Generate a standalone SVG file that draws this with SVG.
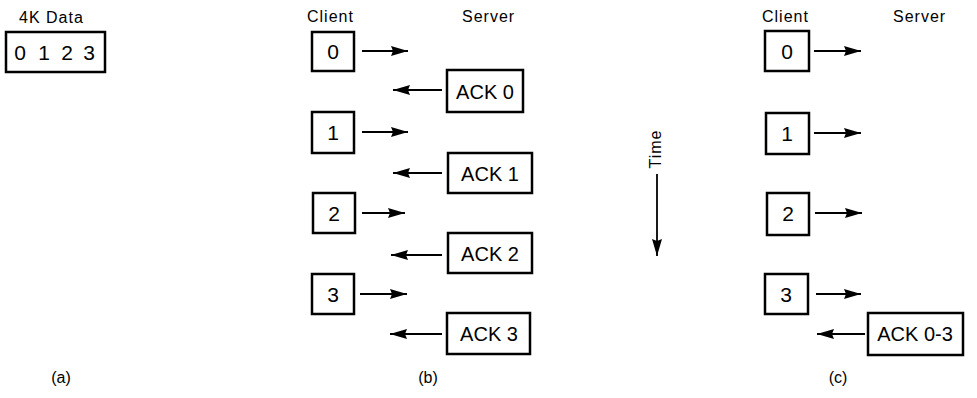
<svg xmlns="http://www.w3.org/2000/svg" width="977" height="398" viewBox="0 0 977 398">
<style>
.box{fill:#fff;stroke:#000;stroke-width:2.5}
.t{font-family:"Liberation Sans",Arial,sans-serif;fill:#000}
.lbl{font-size:16px;letter-spacing:1px}
.num{font-size:21px;text-anchor:middle}
.ack{font-size:20px;text-anchor:middle}
.cap{font-size:16px;text-anchor:middle}
.arr{stroke:#000;stroke-width:1.8;fill:none;marker-end:url(#ah)}
</style>
<defs>
<marker id="ah" markerUnits="userSpaceOnUse" markerWidth="20" markerHeight="14" refX="17" refY="7" orient="auto">
<path d="M0,2 L17,7 L0,12 L2,7 Z" fill="#000"/>
</marker>
</defs>
<g id="a-data">
<text class="t lbl" x="19" y="23">4K Data</text>
<rect class="box" x="6" y="32" width="99" height="40"/>
<text class="t num" x="20" y="60">0</text>
<text class="t num" x="44" y="60">1</text>
<text class="t num" x="67" y="60">2</text>
<text class="t num" x="89" y="60">3</text>
</g>
<g id="b-labels">
<text class="t lbl" x="307" y="22">Client</text>
<text class="t lbl" x="462" y="22">Server</text>
</g>
<g id="b-c0"><rect class="box" x="312" y="32" width="42" height="39"/><text class="t num" x="333" y="59">0</text></g>
<g id="b-ack0"><rect class="box" x="447" y="70" width="76" height="42"/><text class="t ack" x="485" y="99">ACK 0</text></g>
<g id="b-c1"><rect class="box" x="312" y="112" width="42" height="41"/><text class="t num" x="333" y="140">1</text></g>
<g id="b-ack1"><rect class="box" x="448" y="153" width="84" height="40"/><text class="t ack" x="490" y="181">ACK 1</text></g>
<g id="b-c2"><rect class="box" x="313" y="193" width="42" height="40"/><text class="t num" x="334" y="221">2</text></g>
<g id="b-ack2"><rect class="box" x="448" y="233" width="84" height="40"/><text class="t ack" x="490" y="261">ACK 2</text></g>
<g id="b-c3"><rect class="box" x="312" y="274" width="42" height="40"/><text class="t num" x="333" y="302">3</text></g>
<g id="b-ack3"><rect class="box" x="447" y="313" width="83" height="41"/><text class="t ack" x="489" y="341">ACK 3</text></g>
<g id="time">
<text class="t" font-size="16" letter-spacing="1" transform="translate(661,149) rotate(-90)" text-anchor="middle">Time</text>
</g>
<g id="c-labels">
<text class="t lbl" x="762" y="22">Client</text>
<text class="t lbl" x="893" y="22">Server</text>
</g>
<g id="c-c0"><rect class="box" x="765" y="31" width="44" height="40"/><text class="t num" x="787" y="59">0</text></g>
<g id="c-c1"><rect class="box" x="766" y="113" width="43" height="41"/><text class="t num" x="787" y="141">1</text></g>
<g id="c-c2"><rect class="box" x="767" y="193" width="42" height="42"/><text class="t num" x="788" y="221">2</text></g>
<g id="c-c3"><rect class="box" x="765" y="274" width="43" height="40"/><text class="t num" x="786" y="302">3</text></g>
<g id="c-ack"><rect class="box" x="868" y="313" width="95" height="42"/><text class="t ack" x="915" y="341">ACK 0-3</text></g>
<g id="captions">
<text class="t cap" x="61" y="383">(a)</text>
<text class="t cap" x="428" y="383">(b)</text>
<text class="t cap" x="838" y="383">(c)</text>
</g>
<g id="connectors">
<line class="arr" x1="362" y1="51" x2="408" y2="51"/>
<line class="arr" x1="442" y1="90" x2="393" y2="90"/>
<line class="arr" x1="362" y1="132" x2="408" y2="132"/>
<line class="arr" x1="442" y1="173" x2="393" y2="173"/>
<line class="arr" x1="362" y1="213" x2="405" y2="213"/>
<line class="arr" x1="442" y1="255" x2="391" y2="255"/>
<line class="arr" x1="360" y1="294" x2="407" y2="294"/>
<line class="arr" x1="442" y1="334" x2="390" y2="334"/>
<line class="arr" x1="657" y1="174" x2="657" y2="256"/>
<line class="arr" x1="814" y1="51" x2="861" y2="51"/>
<line class="arr" x1="814" y1="133" x2="861" y2="133"/>
<line class="arr" x1="815" y1="213" x2="862" y2="213"/>
<line class="arr" x1="816" y1="294" x2="861" y2="294"/>
<line class="arr" x1="865" y1="334" x2="817" y2="334"/>
</g>
</svg>
